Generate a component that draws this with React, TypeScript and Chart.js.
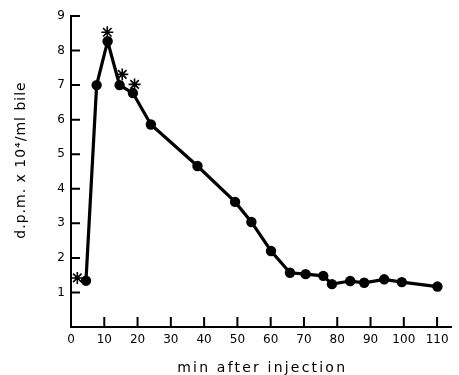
import React, { useEffect, useRef } from "react";
import { Chart, registerables } from "chart.js";

Chart.register(...registerables);

// Data
const circleX = [4.5, 7.7, 11, 14.6, 18.6, 24, 38, 49.3, 54.2, 60.1, 65.8, 70.5, 75.8, 78.4, 83.9, 88.1, 94.1, 99.4, 110.1];
const circleY = [1.34, 7.0, 8.27, 7.0, 6.77, 5.86, 4.66, 3.62, 3.04, 2.2, 1.57, 1.53, 1.48, 1.24, 1.33, 1.28, 1.38, 1.3, 1.17];
const starX = [1.9, 10.9, 15.4, 19.1];
const starY = [1.42, 8.53, 7.31, 7.02];
const xTicks = [0, 10, 20, 30, 40, 50, 60, 70, 80, 90, 100, 110];
const yTicks = [1, 2, 3, 4, 5, 6, 7, 8, 9];
const xTitle = "min after injection";
const yTitle = "d.p.m. x 10\u2074/ml bile";

const FONT = "'DejaVu Sans', sans-serif";

const axisDecor = {
  id: "axisDecor",
  afterDraw(chart: any) {
    const ctx = chart.ctx as CanvasRenderingContext2D;
    const xs = chart.scales.x;
    const ys = chart.scales.y;
    const ca = chart.chartArea;
    ctx.save();
    ctx.strokeStyle = "#000";
    ctx.lineWidth = 2;
    ctx.beginPath();
    for (const v of xTicks) {
      if (v === 0) continue;
      const px = xs.getPixelForValue(v);
      ctx.moveTo(px, ca.bottom);
      ctx.lineTo(px, ca.bottom - 10);
    }
    for (const v of yTicks) {
      const py = ys.getPixelForValue(v);
      ctx.moveTo(ca.left, py);
      ctx.lineTo(ca.left + 9, py);
    }
    ctx.stroke();

    // axis titles (letter-spaced like the reference)
    ctx.fillStyle = "#000";
    ctx.textAlign = "center";
    ctx.textBaseline = "middle";
    ctx.font = `14px ${FONT}`;
    (ctx as any).letterSpacing = "2.2px";
    const cx = (ca.left + ca.right) / 2;
    ctx.fillText(xTitle, cx + 1, 368);
    (ctx as any).letterSpacing = "1px";
    ctx.translate(21, 160);
    ctx.rotate(-Math.PI / 2);
    ctx.fillText(yTitle, 0, 0);
    (ctx as any).letterSpacing = "0px";
    ctx.restore();
  },
};

export default function App() {
  const ref = useRef<HTMLCanvasElement | null>(null);
  useEffect(() => {
    if (!ref.current) return;
    const chart = new Chart(ref.current, {
      type: "scatter",
      data: {
        datasets: [
          {
            label: "circles",
            data: circleX.map((x, i) => ({ x, y: circleY[i] })),
            showLine: true,
            borderColor: "#000",
            backgroundColor: "#000",
            borderWidth: 3.2,
            pointRadius: 5.2,
            pointStyle: "circle",
            pointBorderWidth: 0,
            tension: 0,
          },
          {
            label: "stars",
            data: starX.map((x, i) => ({ x, y: starY[i] })),
            showLine: false,
            borderColor: "#000",
            backgroundColor: "#000",
            pointStyle: "star",
            pointRadius: 6,
            pointBorderWidth: 1.6,
          },
        ],
      },
      options: {
        animation: false,
        responsive: false,
        clip: false as any,
        layout: { padding: { left: 0, right: -1, top: 16, bottom: 0 } },
        plugins: { legend: { display: false }, tooltip: { enabled: false } },
        scales: {
          x: {
            type: "linear",
            min: 0,
            max: 114.3,
            afterBuildTicks: (s: any) => {
              s.ticks = xTicks.map((v) => ({ value: v }));
            },
            afterFit: (s: any) => {
              s.height = 48;
              s.paddingLeft = 0;
              s.paddingRight = 0;
            },
            grid: { display: false, drawTicks: false },
            border: { display: true, color: "#000", width: 2 },
            ticks: {
              color: "#000",
              padding: 6,
              maxRotation: 0,
              autoSkip: false,
              font: { family: FONT, size: 12 },
            },
            title: { display: false },
          },
          y: {
            type: "linear",
            min: 0,
            max: 9,
            afterBuildTicks: (s: any) => {
              s.ticks = yTicks.map((v) => ({ value: v }));
            },
            afterFit: (s: any) => {
              s.width = 71;
              s.paddingTop = 0;
              s.paddingBottom = 0;
            },
            grid: { display: false, drawTicks: false },
            border: { display: true, color: "#000", width: 2 },
            ticks: {
              color: "#000",
              padding: 6,
              font: { family: FONT, size: 12 },
            },
            title: { display: false },
          },
        },
      },
      plugins: [axisDecor],
    });
    return () => chart.destroy();
  }, []);
  return (
    <div style={{ position: "absolute", left: 0, top: 0, width: 459, height: 375, background: "#fff" }}>
      <canvas ref={ref} width={459} height={375} style={{ display: "block" }} />
    </div>
  );
}
